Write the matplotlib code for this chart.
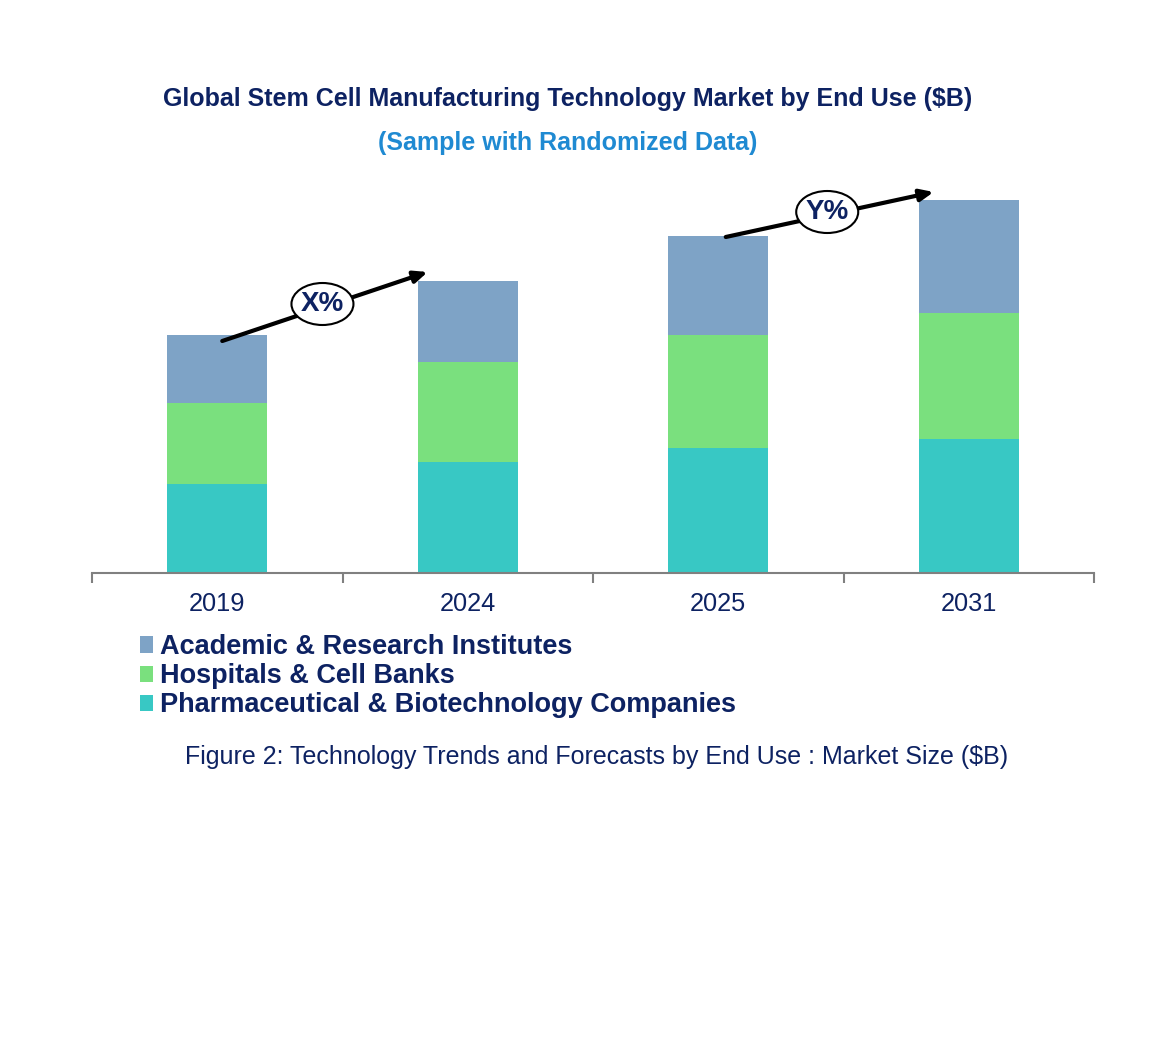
import matplotlib
matplotlib.use("Agg")
import matplotlib.pyplot as plt
from matplotlib.patches import Ellipse, Patch

plt.rcParams['font.family'] = ['Liberation Sans', 'DejaVu Sans']

years = ["2019", "2024", "2025", "2031"]
pharma = [8.9, 11.1, 12.5, 13.4]
hospitals = [8.1, 10.0, 11.3, 12.6]
academic = [6.8, 8.1, 9.9, 11.3]
series_names = ["Pharmaceutical & Biotechnology Companies", "Hospitals & Cell Banks", "Academic & Research Institutes"]
growth_labels = ["X%", "Y%"]

NAVY = "#0D2262"
colors = ["#38C8C4", "#7AE07E", "#7EA3C6"]

fig = plt.figure(figsize=(11.58, 10.51), dpi=100)
ax = fig.add_axes([92/1158, 1-573/1051, (1094-92)/1158, (573-180)/1051])

x = list(range(len(years)))
bottom = [0]*len(years)
for vals, c in zip([pharma, hospitals, academic], colors):
    ax.bar(x, vals, width=0.4, bottom=bottom, color=c, edgecolor='none', zorder=2)
    bottom = [b+v for b, v in zip(bottom, vals)]
totals = bottom

ax.set_xlim(-0.5, 3.5)
ax.set_ylim(0, 39.3)
ax.set_yticks([])
for s in ['top', 'right', 'left']:
    ax.spines[s].set_visible(False)
ax.spines['bottom'].set_color('#808080')
ax.spines['bottom'].set_linewidth(1.5)
ax.set_xticks([-0.5, 0.5, 1.5, 2.5, 3.5], minor=False)
ax.set_xticklabels([])
ax.tick_params(axis='x', which='major', direction='out', length=7, width=1.5, color='#808080')
ax.set_xticks(x, minor=True)
ax.set_xticklabels(years, minor=True, fontsize=18.3, color=NAVY)
ax.tick_params(axis='x', which='minor', length=0, pad=14)

# growth arrows
for (i, j), lab in zip([(0, 1), (2, 3)], growth_labels):
    x0, y0 = i + 0.02, totals[i] - 0.6
    x1, y1 = j - 0.16, totals[j] + 0.9
    if i == 2:
        x0, y0 = i + 0.03, totals[i] - 0.1
        x1, y1 = j - 0.14, totals[j] + 0.8
    ax.annotate("", xy=(x1, y1), xytext=(x0, y0),
                arrowprops=dict(arrowstyle="-|>,head_length=0.8,head_width=0.35", color='black', lw=3,
                                shrinkA=0, shrinkB=0), zorder=4)
    xm, ym = (x0 + x1) / 2 - 0.01, (y0 + y1) / 2 + 0.25
    ax.add_patch(Ellipse((xm, ym), width=62/250.5, height=4.2, facecolor='white',
                         edgecolor='black', lw=1.5, zorder=5))
    ax.text(xm, ym, lab, ha='center', va='center', fontsize=20, fontweight='bold',
            color=NAVY, zorder=6)

fig.text(568/1158, 1-99/1051, "Global Stem Cell Manufacturing Technology Market by End Use ($B)",
         ha='center', va='center', fontsize=18, fontweight='bold', color=NAVY)
fig.text(568/1158, 1-143/1051, "(Sample with Randomized Data)",
         ha='center', va='center', fontsize=18, fontweight='bold', color="#1F8AD2")

handles = [Patch(facecolor=c, edgecolor='none') for c in colors][::-1]
leg = fig.legend(handles, series_names[::-1], loc='upper left',
                 bbox_to_anchor=(140/1158, 1-634/1051), frameon=False,
                 handlelength=0.48, handleheight=0.55, handletextpad=0.26,
                 labelspacing=0.12, borderaxespad=0, borderpad=0,
                 prop=dict(size=19.5, weight='bold'))
for t in leg.get_texts():
    t.set_color(NAVY)

fig.text(597/1158, 1-757/1051, "Figure 2: Technology Trends and Forecasts by End Use : Market Size ($B)",
         ha='center', va='center', fontsize=18, color=NAVY)

fig.savefig("out.png", dpi=100, facecolor='white')
